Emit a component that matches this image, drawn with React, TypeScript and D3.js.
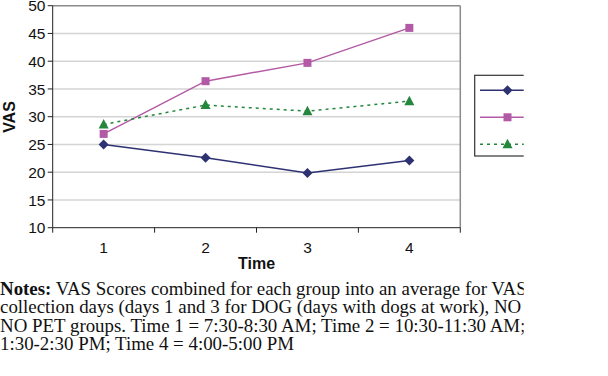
import React from "react";
import * as d3 from "d3";

const times = [1, 2, 3, 4];
const seriesNames = ["DOG", "NO DOG", "NO PET"];
const dogValues = [25.0, 22.6, 19.85, 22.1];
const noDogValues = [26.9, 36.4, 39.7, 46.0];
const noPetValues = [28.6, 32.1, 31.0, 32.8];
const yTicks = [10, 15, 20, 25, 30, 35, 40, 45, 50];
const notesLines = [
  { bold: "Notes:", text: " VAS Scores combined for each group into an average for VAS score" },
  { bold: "", text: "collection days (days 1 and 3 for DOG (days with dogs at work), NO DOG, and" },
  { bold: "", text: "NO PET groups. Time 1 = 7:30-8:30 AM; Time 2 = 10:30-11:30 AM; Time 3 =" },
  { bold: "", text: "1:30-2:30 PM; Time 4 = 4:00-5:00 PM" },
];

const W = 608;
const H = 376;
const left = 52.7;
const right = 460.3;
const top = 5.7;
const bottom = 227.7;

export default function App() {
  const x = d3.scaleBand<number>().domain(times).range([left, right]).padding(0);
  const y = d3.scaleLinear().domain([10, 50]).range([bottom, top]);
  const cx = (t: number) => (x(t) as number) + x.bandwidth() / 2;
  const line = d3
    .line<number>()
    .x((_, i) => cx(times[i]))
    .y((v) => y(v));

  const series = [
    { name: seriesNames[0], values: dogValues, color: "#2e3172", dash: undefined, marker: "diamond" },
    { name: seriesNames[1], values: noDogValues, color: "#b35aa6", dash: undefined, marker: "square" },
    { name: seriesNames[2], values: noPetValues, color: "#24873d", dash: "3,4", marker: "triangle" },
  ];

  const marker = (kind: string, px: number, py: number, color: string, key: string) => {
    if (kind === "diamond")
      return (
        <path key={key} d={`M${px},${py - 5}L${px + 5},${py}L${px},${py + 5}L${px - 5},${py}Z`} fill={color} />
      );
    if (kind === "square")
      return <rect key={key} x={px - 4} y={py - 4} width={8} height={8} fill={color} />;
    return (
      <path key={key} d={`M${px},${py - 5.5}L${px + 5},${py + 4}L${px - 5},${py + 4}Z`} fill={color} />
    );
  };

  const xTickPositions = [...times.map((t) => x(t) as number), right];
  const legendYs = [90.3, 117.3, 144.3];

  return (
    <div style={{ position: "absolute", left: 0, top: 0, width: W, height: H, background: "#fff" }}>
      <svg width={W} height={H} style={{ display: "block" }}>
        <defs>
          <clipPath id="crop">
            <rect x={0} y={0} width={523.7} height={H} />
          </clipPath>
        </defs>
        <rect x={0} y={0} width={W} height={H} fill="#fff" />
        <g clipPath="url(#crop)">
          {/* gridlines */}
          {yTicks.slice(1).map((t) => (
            <line key={t} x1={left} x2={right} y1={y(t)} y2={y(t)} stroke={t === 50 ? "#8a8a8a" : "#d4d4d4"} strokeWidth={1.5} />
          ))}
          <line x1={right} x2={right} y1={top} y2={bottom} stroke="#8a8a8a" strokeWidth={1.5} />
          {/* axes */}
          <line x1={left} x2={left} y1={top} y2={bottom} stroke="#222" strokeWidth={1} />
          <line x1={left} x2={right} y1={bottom} y2={bottom} stroke="#222" strokeWidth={1} />
          {yTicks.map((t) => (
            <g key={t}>
              <line x1={left - 5} x2={left} y1={y(t)} y2={y(t)} stroke="#222" />
              <text x={45.5} y={y(t) + 5.6} textAnchor="end" fontFamily="Liberation Sans, Arial, sans-serif" fontSize={15.5} fill="#111">
                {t}
              </text>
            </g>
          ))}
          {xTickPositions.map((p, i) => (
            <line key={i} x1={p} x2={p} y1={bottom} y2={bottom + 5} stroke="#222" />
          ))}
          {times.map((t) => (
            <text key={t} x={cx(t)} y={252.5} textAnchor="middle" fontFamily="Liberation Sans, Arial, sans-serif" fontSize={15.5} fill="#111">
              {t}
            </text>
          ))}
          <text x={(left + right) / 2} y={269} textAnchor="middle" fontFamily="Liberation Sans, Arial, sans-serif" fontSize={16} fontWeight="bold" fill="#111">
            Time
          </text>
          <text transform={`translate(15,117) rotate(-90)`} textAnchor="middle" fontFamily="Liberation Sans, Arial, sans-serif" fontSize={16} fontWeight="bold" fill="#111">
            VAS
          </text>
          {/* series */}
          {series.map((s) => (
            <g key={s.name}>
              <path d={line(s.values) as string} fill="none" stroke={s.color} strokeWidth={1.5} strokeDasharray={s.dash} />
              {s.values.map((v, i) => marker(s.marker, cx(times[i]), y(v), s.color, `${s.name}-${i}`))}
            </g>
          ))}
          {/* legend */}
          <rect x={474.7} y={75.3} width={80} height={80.7} fill="#fff" stroke="#333" strokeWidth={1.2} />
          {series.map((s, i) => (
            <g key={s.name}>
              <line x1={480} x2={540} y1={legendYs[i]} y2={legendYs[i]} stroke={s.color} strokeWidth={1.5} strokeDasharray={s.dash} />
              {marker(s.marker, 507.5, legendYs[i], s.color, `leg-${i}`)}
            </g>
          ))}
          {/* notes */}
          <g transform="scale(1.05,1)">
            {notesLines.map((l, i) => (
              <text key={i} x={0} y={295 + i * 18.5} fontFamily="Liberation Serif, Times New Roman, serif" fontSize={18} fill="#111">
                {l.bold ? <tspan fontWeight="bold">{l.bold}</tspan> : null}
                {l.text}
              </text>
            ))}
          </g>
        </g>
      </svg>
    </div>
  );
}
